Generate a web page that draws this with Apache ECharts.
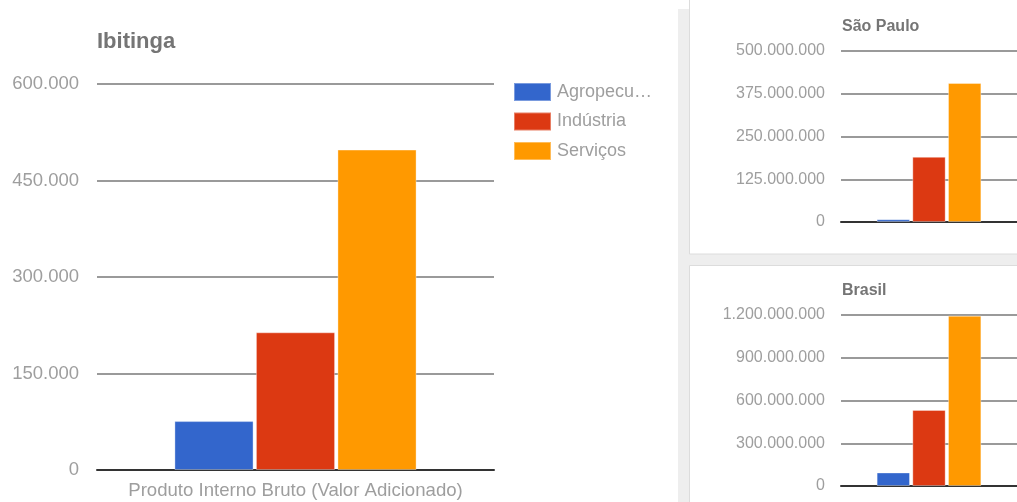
<!DOCTYPE html>
<html>
<head>
<meta charset="utf-8">
<script src="https://cdn.jsdelivr.net/npm/echarts@6/dist/echarts.min.js"></script>
<style>
html,body{margin:0;padding:0;background:#fff;}
#c{width:1017px;height:502px;}
</style>
</head>
<body>
<div id="c"></div>
<script>
// ---- data ----
const categories = ['Produto Interno Bruto (Valor Adicionado)'];
const seriesNames = ['Agropecuária', 'Indústria', 'Serviços'];
const colors = ['#3366cc', '#dc3912', '#ff9900'];

const ibitingaValues = [76000, 214000, 498000];
const saoPauloValues = [8000000, 190600000, 406500000];
const brasilValues = [95000000, 534000000, 1195000000];

const ibitingaTicks = [0, 150000, 300000, 450000, 600000];
const saoPauloTicks = [0, 125000000, 250000000, 375000000, 500000000];
const brasilTicks = [0, 300000000, 600000000, 900000000, 1200000000];

const chartTitles = ['Ibitinga', 'São Paulo', 'Brasil'];

// ---- helpers ----
function fmt(v) {
  return String(Math.round(v)).replace(/\B(?=(\d{3})+(?!\d))/g, '.');
}
const FONT = '"Liberation Sans", Arial, sans-serif';

function yAxisFor(ticks, gridIndex, fontSize, margin) {
  return {
    type: 'value', gridIndex: gridIndex,
    min: ticks[0], max: ticks[ticks.length - 1],
    interval: ticks[1] - ticks[0],
    axisLine: { show: false }, axisTick: { show: false },
    axisLabel: { formatter: fmt, color: '#9e9e9e', fontSize: fontSize, fontFamily: FONT, margin: margin },
    splitLine: { lineStyle: { color: '#787878', width: 1.5 } }
  };
}
function xAxisFor(gridIndex, showLabel) {
  return {
    type: 'category', gridIndex: gridIndex, data: categories,
    axisTick: { show: false },
    axisLine: { lineStyle: { color: '#333333', width: 2 } },
    axisLabel: { show: showLabel, color: '#9e9e9e', fontSize: 18.6, fontFamily: FONT, margin: 11 }
  };
}
function barsFor(values, idx, catGap, barGap) {
  return values.map(function (v, i) {
    return {
      name: seriesNames[i], type: 'bar',
      xAxisIndex: idx, yAxisIndex: idx,
      data: [v],
      barCategoryGap: catGap, barGap: barGap,
      itemStyle: { color: colors[i], borderColor: 'rgba(255,255,255,0.35)', borderWidth: 1 },
      emphasis: { disabled: true },
      animation: false
    };
  });
}

const chart = echarts.init(document.getElementById('c'), null, { renderer: 'canvas' });

const option = {
  animation: false,
  textStyle: { fontFamily: FONT },
  graphic: [
    { type: 'rect', z: -10, shape: { x: 678, y: 9, width: 339, height: 493 }, style: { fill: '#eeeeee' } },
    { type: 'rect', z: -9, shape: { x: 689.5, y: -2, width: 340, height: 256 }, style: { fill: '#ffffff', stroke: '#dcdcdc', lineWidth: 1 } },
    { type: 'rect', z: -9, shape: { x: 689.5, y: 265.5, width: 340, height: 250 }, style: { fill: '#ffffff', stroke: '#dcdcdc', lineWidth: 1 } }
  ],
  title: [
    { text: chartTitles[0], left: 97, top: 31, padding: 0,
      textStyle: { fontSize: 22, fontWeight: 'bold', color: '#757575', fontFamily: FONT } },
    { text: chartTitles[1], left: 842, top: 19, padding: 0,
      textStyle: { fontSize: 16, fontWeight: 'bold', color: '#757575', fontFamily: FONT } },
    { text: chartTitles[2], left: 842, top: 283, padding: 0,
      textStyle: { fontSize: 16, fontWeight: 'bold', color: '#757575', fontFamily: FONT } }
  ],
  legend: {
    orient: 'vertical', left: 513, top: 82, padding: 0,
    itemWidth: 37, itemHeight: 18, itemGap: 9.5,
    icon: 'rect',
    data: seriesNames,
    selectedMode: false,
    textStyle: { color: '#9e9e9e', fontSize: 18, fontFamily: FONT, width: 98, overflow: 'truncate', ellipsis: '…', padding: [0, 0, 0, 1] }
  },
  grid: [
    { left: 97, top: 84, width: 397, height: 386 },
    { left: 841, top: 51, width: 176, height: 171 },
    { left: 841, top: 315, width: 176, height: 171 }
  ],
  xAxis: [xAxisFor(0, true), xAxisFor(1, false), xAxisFor(2, false)],
  yAxis: [
    yAxisFor(ibitingaTicks, 0, 18.5, 18),
    yAxisFor(saoPauloTicks, 1, 16, 16),
    yAxisFor(brasilTicks, 2, 16, 16)
  ],
  series: [].concat(
    barsFor(ibitingaValues, 0, '39%', '3%'),
    barsFor(saoPauloValues, 1, '40.5%', '7%'),
    barsFor(brasilValues, 2, '40.5%', '7%')
  )
};
chart.setOption(option);
</script>
</body>
</html>
